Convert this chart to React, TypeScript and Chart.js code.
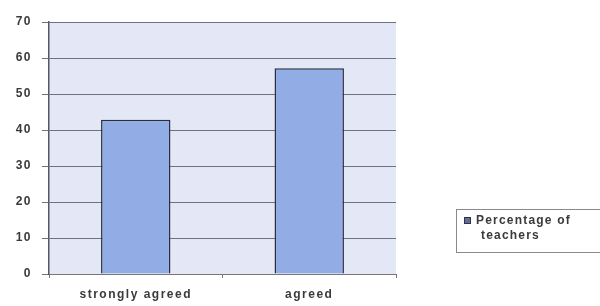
import React, { useEffect, useRef } from "react";
import { Chart, registerables } from "chart.js";

Chart.register(...registerables);

const categories = ["strongly agreed", "agreed"];
const percentageOfTeachers = [42.86, 57.14];
const seriesLabel = ["Percentage of", "teachers"];
const yTicks = [0, 10, 20, 30, 40, 50, 60, 70];

const FONT = "Arial, 'Liberation Sans', sans-serif";

const plotBg = {
  id: "plotBg",
  beforeDraw(chart: any) {
    const { ctx, chartArea } = chart;
    (ctx as any).letterSpacing = "1.5px";
    ctx.save();
    ctx.fillStyle = "#e3e7f6";
    ctx.fillRect(chartArea.left, chartArea.top, chartArea.right - chartArea.left, chartArea.bottom - chartArea.top);
    ctx.restore();
  },
};

const sideLegend = {
  id: "sideLegend",
  afterDraw(chart: any) {
    const { ctx } = chart;
    const ds = chart.data.datasets[0];
    const x = 456, y = 209, w = 150, h = 43;
    ctx.save();
    ctx.fillStyle = "#ffffff";
    ctx.fillRect(x, y, w, h);
    ctx.strokeStyle = "#8a8a8a";
    ctx.lineWidth = 1;
    ctx.strokeRect(x + 0.5, y + 0.5, w, h);
    ctx.fillStyle = "#5f6f9a";
    ctx.fillRect(464, 217, 7, 7);
    ctx.strokeStyle = "#333344";
    ctx.strokeRect(464.5, 217.5, 6, 6);
    ctx.fillStyle = "#3a3a3a";
    (ctx as any).letterSpacing = "1.2px";
    ctx.font = "bold 12px " + FONT;
    ctx.textBaseline = "middle";
    ctx.textAlign = "left";
    const lines = ds.label as string[];
    ctx.fillText(lines[0], 476, 221);
    ctx.fillText(lines[1], 481, 236);
    ctx.restore();
  },
};

export default function App() {
  const ref = useRef<HTMLCanvasElement>(null);
  useEffect(() => {
    document.body.style.margin = "0";
    const chart = new Chart(ref.current!, {
      type: "bar",
      data: {
        labels: categories,
        datasets: [
          {
            label: seriesLabel as any,
            data: percentageOfTeachers,
            backgroundColor: "#92ade6",
            borderColor: "#2a2e3c",
            borderWidth: 1.5,
            barPercentage: 0.8,
            categoryPercentage: 0.5,
          },
        ],
      },
      options: {
        animation: false,
        responsive: false,
        maintainAspectRatio: false,
        layout: { padding: { left: 0, right: 204, top: 22, bottom: 0 } },
        plugins: { legend: { display: false }, tooltip: { enabled: false } },
        scales: {
          x: {
            grid: {
              offset: true,
              drawOnChartArea: false,
              drawTicks: true,
              tickLength: 4,
              color: "#777777",
            },
            border: { color: "#777777", width: 1 },
            ticks: {
              color: "#3a3a3a",
              font: { size: 12, weight: "bold", family: FONT },
              padding: 9,
            },
            afterFit(scale: any) {
              scale.height = 32;
            },
          },
          y: {
            min: 0,
            max: 70,
            afterBuildTicks(scale: any) {
              scale.ticks = yTicks.map((v) => ({ value: v }));
            },
            grid: {
              color: "#6f7282",
              lineWidth: 1,
              tickLength: 7,
            },
            border: { color: "#555566", width: 1.5 },
            ticks: {
              color: "#3a3a3a",
              font: { size: 12, weight: "bold", family: FONT },
              padding: 10,
            },
            afterFit(scale: any) {
              scale.width = 49;
            },
          },
        },
      },
      plugins: [plotBg, sideLegend],
    });
    return () => chart.destroy();
  }, []);
  return <canvas ref={ref} width={600} height={306} style={{ display: "block" }} />;
}
